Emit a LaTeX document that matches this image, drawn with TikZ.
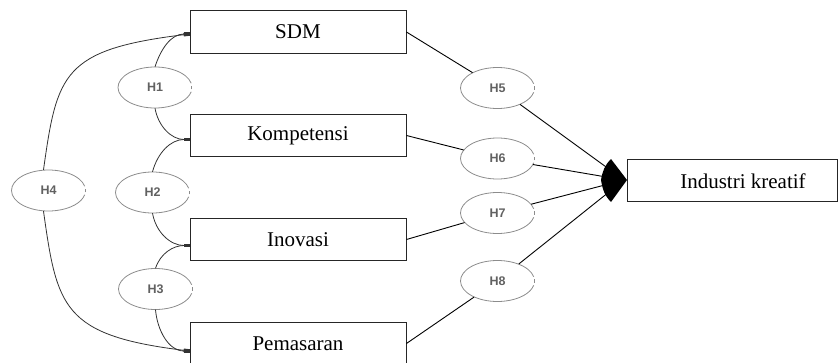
\documentclass[tikz,border=0pt]{standalone}
\usepackage{fontspec}
\setmainfont{Liberation Serif}
\newfontfamily\hfont{Liberation Sans}
\usetikzlibrary{shapes.geometric,arrows.meta,calc}
\begin{document}
\begin{tikzpicture}[x=1pt,y=-1pt,
  box/.style={draw=black!85,line width=0.9pt,minimum width=216pt,minimum height=42.5pt,inner sep=0pt,font=\fontsize{21}{24}\selectfont},
  hyp/.style={ellipse,minimum width=74pt,minimum height=41pt,inner sep=0pt,font=\hfont\bfseries\fontsize{12.5}{14}\selectfont,text=black!62},
  ell/.style={draw=black!45,line width=0.8pt},
  rel/.style={draw=black!80,line width=0.8pt,-{Rectangle[length=6pt,width=3.5pt]}},
  lnk/.style={draw=black,line width=0.9pt}
]
\useasboundingbox (0,0) rectangle (838,362);
\clip (0,0) rectangle (838,362);

% boxes
\node[box] (sdm) at (298,32) {SDM};
\node[box] (kom) at (298,135.5) {Kompetensi};
\node[box] (ino) at (298,239.5) {Inovasi};
\node[box] (pem) at (298,343.5) {Pemasaran};
\node[box,minimum width=210pt] (ind) at (732,180.5) {};
\node[font=\fontsize{21}{24}\selectfont,inner sep=0pt] (indt) at (743,181) {Industri kreatif};

% hypothesis ellipses
\node[hyp] (h1) at (155,87.5) {H1};
\node[hyp] (h2) at (152.5,192.5) {H2};
\node[hyp] (h3) at (155.5,289) {H3};
\node[hyp] (h4) at (48.5,190.5) {H4};
\node[hyp] (h5) at (497.5,88) {H5};
\node[hyp] (h6) at (497.5,158.5) {H6};
\node[hyp] (h7) at (497.5,213) {H7};
\node[hyp] (h8) at (497.5,281) {H8};
\foreach \n in {h1,h2,h3,h4,h5,h6,h7,h8}{
  \draw[ell] ([shift={(12:37pt and 20.5pt)}]\n.center) arc[start angle=12,end angle=348,x radius=37pt,y radius=20.5pt];
  \draw[ell] ([shift={(-5:37pt and 20.5pt)}]\n.center) arc[start angle=-5,end angle=5,x radius=37pt,y radius=20.5pt];
}

% arrow targets on the left of the boxes
\coordinate (aS) at ([yshift=-2pt]sdm.west);
\coordinate (aK) at ([yshift=-4pt]kom.west);
\coordinate (aI) at ([yshift=-6pt]ino.west);
\coordinate (aP) at ([yshift=-7.5pt]pem.west);

% left curved relations
\draw[rel] (h1.north) to[out=72,in=180] (aS);
\draw[rel] (h1.south) to[out=-80,in=180] (aK);
\draw[rel] (h2.north) to[out=75,in=180] (aK);
\draw[rel] (h2.south) to[out=-80,in=180] (aI);
\draw[rel] (h3.north) to[out=72,in=180] (aI);
\draw[rel] (h3.south) to[out=-85,in=180] (aP);
\draw[rel] ([xshift=-5pt]h4.north) to[out=82,in=187,out distance=97pt,in distance=128pt] (aS);
\draw[rel] ([xshift=-5pt]h4.south) to[out=-82,in=173,out distance=97pt,in distance=128pt] (aP);

% right side convergence
\coordinate (conv) at (624,180);
\draw[lnk] (sdm.east) -- (h5);
\draw[lnk] (kom.east) -- (h6);
\draw[lnk] (ino.east) -- (h7);
\draw[lnk] (pem.east) -- (h8);
\draw[lnk] (h5) -- (conv);
\draw[lnk] (h6) -- (conv);
\draw[lnk] (h7) -- (conv);
\draw[lnk] (h8) -- (conv);
\fill[black] (601,180) to[out=80,in=225] (611,159) -- (627,180) -- (611,202) to[out=135,in=-80] (601,180) -- cycle;
\end{tikzpicture}
\end{document}
